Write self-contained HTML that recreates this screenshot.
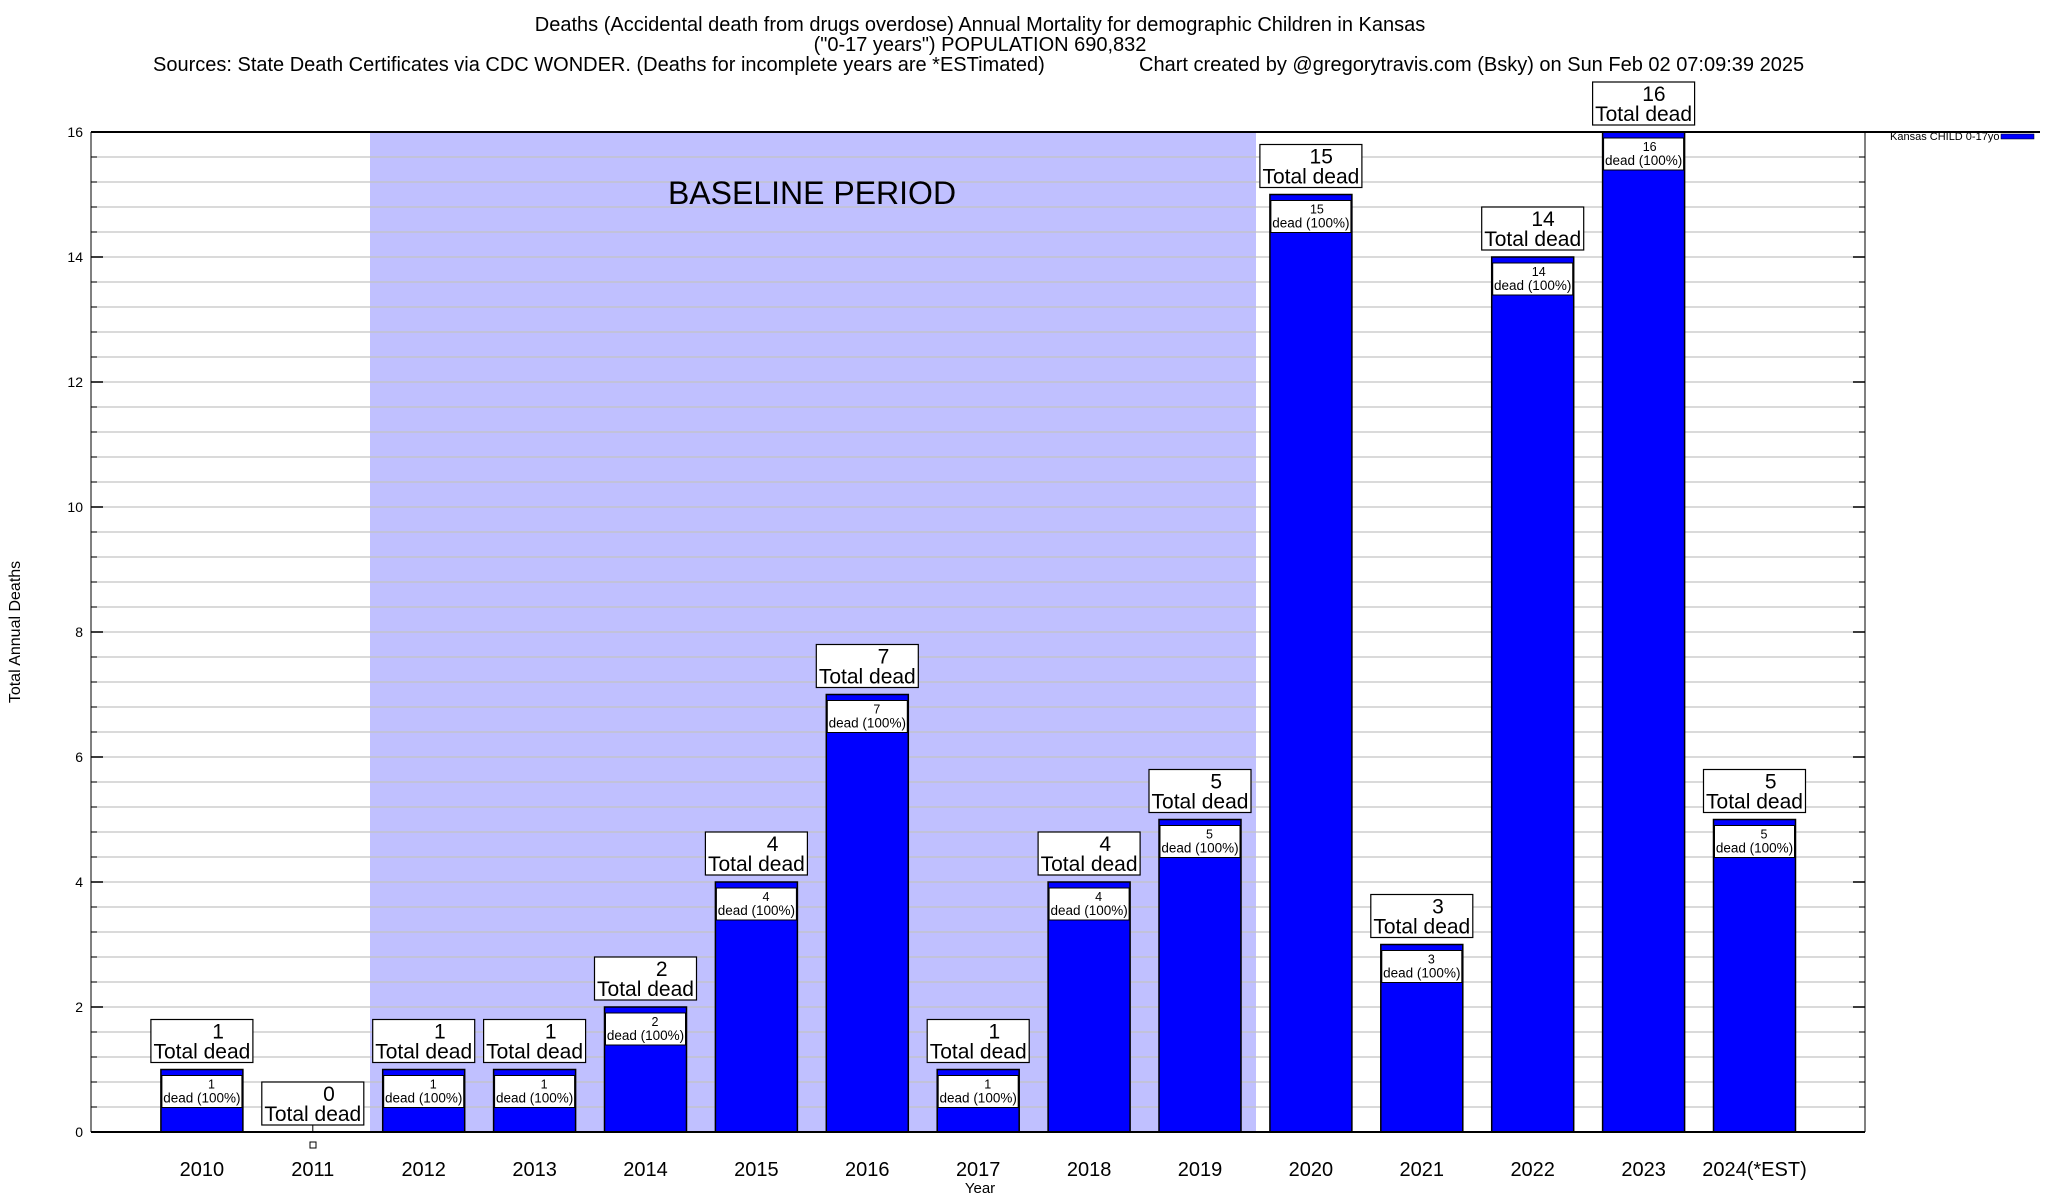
<!DOCTYPE html>
<html><head><meta charset="utf-8"><style>
html,body{margin:0;padding:0;background:#fff;}
svg{display:block;font-family:"Liberation Sans",Arial,sans-serif;}
</style></head><body>
<svg width="2048" height="1200" viewBox="0 0 2048 1200" xmlns="http://www.w3.org/2000/svg">
<rect width="2048" height="1200" fill="#fff"/>
<text x="980" y="31" font-size="20" text-anchor="middle">Deaths (Accidental death from drugs overdose) Annual Mortality for demographic Children in Kansas</text>
<text x="980" y="51" font-size="20" text-anchor="middle">("0-17 years") POPULATION 690,832</text>
<text x="153" y="71" font-size="20">Sources: State Death Certificates via CDC WONDER. (Deaths for incomplete years are *ESTimated)</text>
<text x="1139" y="71" font-size="20">Chart created by @gregorytravis.com (Bsky) on Sun Feb 02 07:09:39 2025</text>
<rect x="370" y="132" width="886" height="1000" fill="#c0c0ff"/>
<g id="grid"></g>
<text x="812" y="204" font-size="32" text-anchor="middle">BASELINE PERIOD</text>
<g id="bars"></g>
<line x1="91" y1="132" x2="2040" y2="132" stroke="#000" stroke-width="2"/>
<line x1="91" y1="1132" x2="1865" y2="1132" stroke="#000" stroke-width="2"/>
<line x1="91" y1="132" x2="91" y2="1132" stroke="#000" stroke-width="1"/>
<line x1="1865" y1="132" x2="1865" y2="1132" stroke="#000" stroke-width="1"/>
<text x="20" y="632" font-size="16" text-anchor="middle" transform="rotate(-90 20 632)">Total Annual Deaths</text>
<text x="980" y="1193" font-size="15" text-anchor="middle">Year</text>
<text x="1890" y="140" font-size="11">Kansas CHILD 0-17yo</text>
<rect x="2001" y="134" width="33" height="5" fill="#0000ff" stroke="#000" stroke-width="0.5"/>
<rect x="310" y="1142" width="6" height="6" fill="#fff" stroke="#000" stroke-width="1"/>
</svg>
<script>
var ns="http://www.w3.org/2000/svg";
function el(p,t,a,txt){var e=document.createElementNS(ns,t);for(var k in a)e.setAttribute(k,a[k]);if(txt!==undefined)e.textContent=txt;p.appendChild(e);return e;}
var g=document.getElementById('grid');
for(var i=1;i<40;i++){var y=1132-25*i;el(g,'line',{x1:91,y1:y,x2:1865,y2:y,stroke:'#c4c4c4','stroke-width':1.2});
el(g,'line',{x1:91,y1:y,x2:97,y2:y,stroke:'#000'});el(g,'line',{x1:1859,y1:y,x2:1865,y2:y,stroke:'#000'});}
for(var v=0;v<=16;v+=2){var y=1132-62.5*v;el(g,'text',{x:83,y:y+5,'font-size':14,'text-anchor':'end'},String(v));
el(g,'line',{x1:91,y1:y,x2:103,y2:y,stroke:'#000','stroke-width':1.5});el(g,'line',{x1:1853,y1:y,x2:1865,y2:y,stroke:'#000','stroke-width':1.5});}
var data=[1,0,1,1,2,4,7,1,4,5,15,3,14,16,5];
var labs=['2010','2011','2012','2013','2014','2015','2016','2017','2018','2019','2020','2021','2022','2023','2024(*EST)'];
var b=document.getElementById('bars');
data.forEach(function(v,i){
 var cx=91+110.9*(i+1), top=1132-62.5*v;
 el(b,'text',{x:cx,y:1176,'font-size':20,'text-anchor':'middle'},labs[i]);
 if(v>0){
  el(b,'rect',{x:cx-41,y:top,width:82,height:1132-top,fill:'#0000ff',stroke:'#000','stroke-width':1.5});
  el(b,'rect',{x:cx-40,y:top+6,width:80,height:32,fill:'#fff',stroke:'#000','stroke-width':1});
  el(b,'text',{x:cx+13,y:top+19,'font-size':12.5,'text-anchor':'end'},String(v));
  el(b,'text',{x:cx,y:top+33,'font-size':13.5,'text-anchor':'middle'},'dead (100%)');
 } else {
  el(b,'line',{x1:cx,y1:1125,x2:cx,y2:1132,stroke:'#000'});
 }
 var bb=top-7;
 el(b,'rect',{x:cx-51,y:bb-43,width:102,height:43,fill:'#fff',stroke:'#000','stroke-width':1.2});
 el(b,'text',{x:cx+22,y:bb-24,'font-size':21,'text-anchor':'end'},String(v));
 el(b,'text',{x:cx,y:bb-4,'font-size':21,'text-anchor':'middle'},'Total dead');
});
</script>
</body></html>
